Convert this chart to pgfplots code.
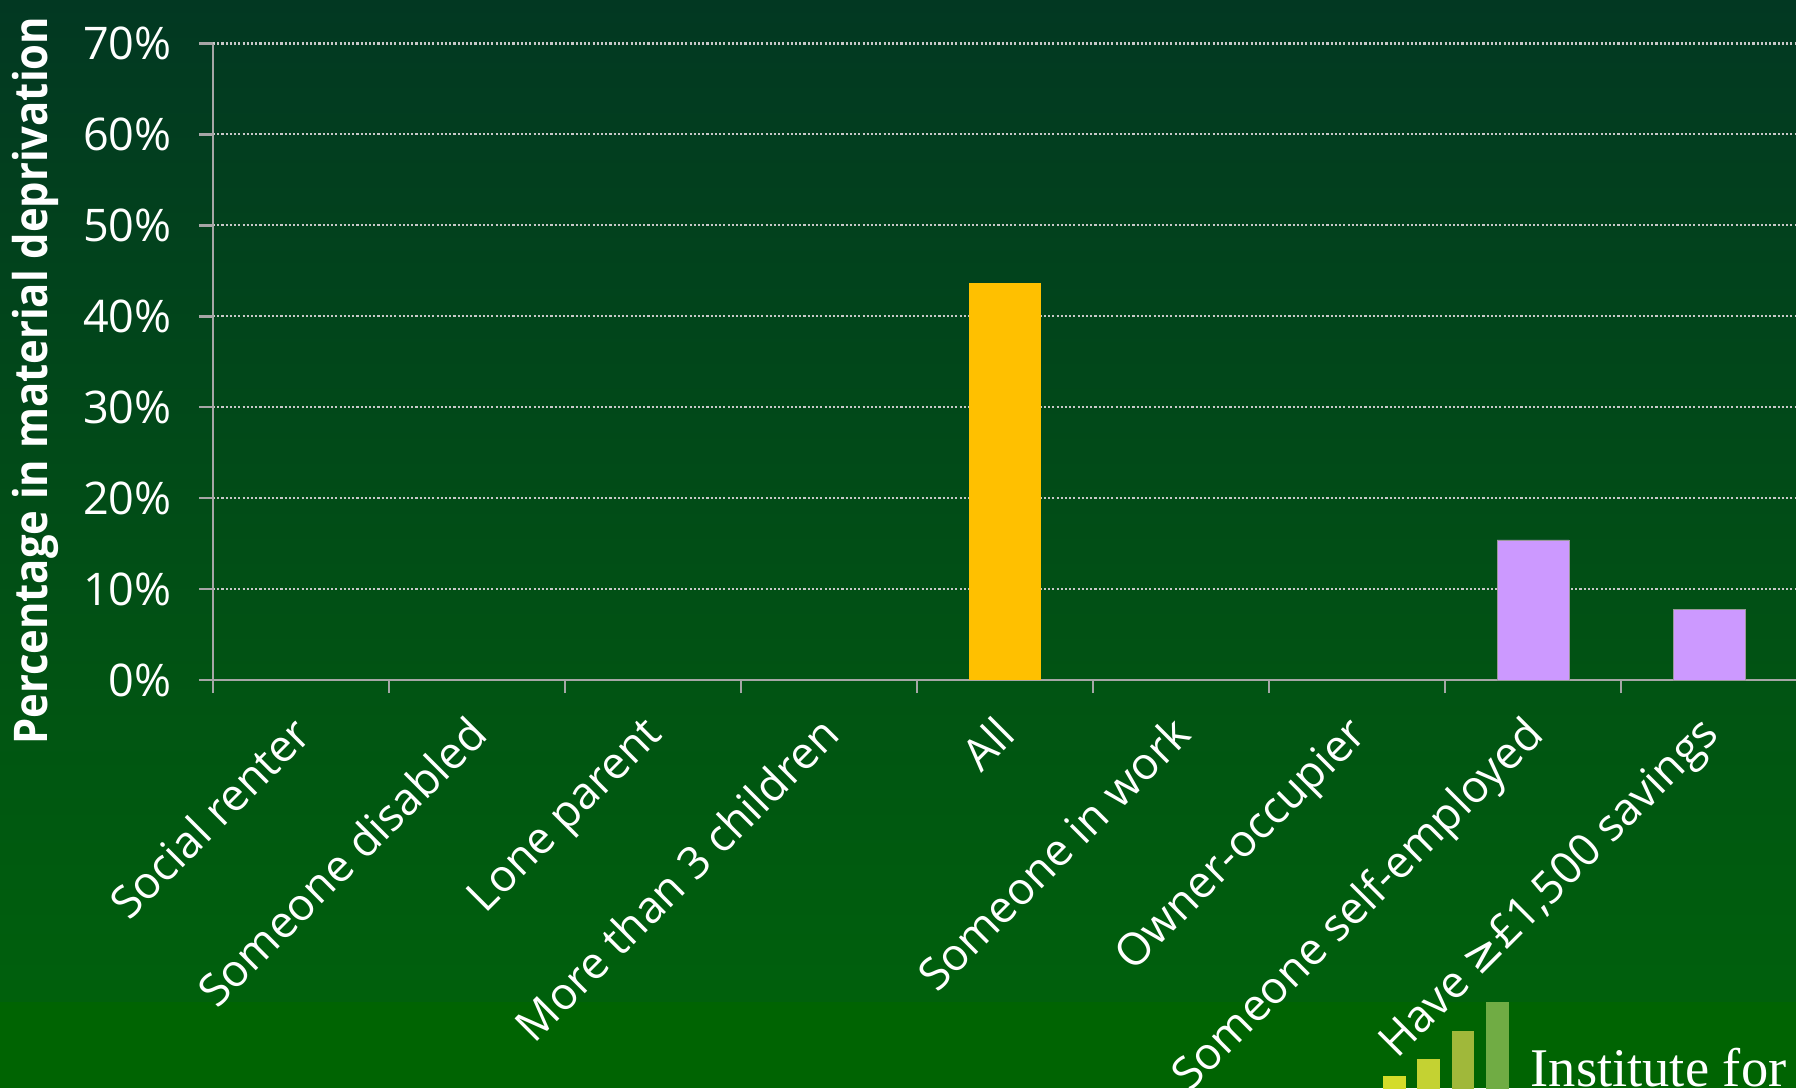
\documentclass[border=0pt]{standalone}
\usepackage{pgfplots}
\pgfplotsset{compat=1.18}
\usepackage{fontspec}
\setmainfont{Open Sans}
\newfontfamily\ylabfont[FakeStretch=0.9]{Open Sans}
\newfontfamily\dejavu{DejaVu Sans}
\newfontfamily\seriffont{Liberation Serif}
\definecolor{bgtop}{RGB}{2,56,34}
\definecolor{bgbot}{RGB}{0,96,12}
\definecolor{band}{RGB}{0,100,2}
\definecolor{axgray}{RGB}{166,166,166}
\definecolor{gridgray}{RGB}{200,200,200}
\definecolor{barYellow}{RGB}{255,192,0}
\definecolor{barPurple}{RGB}{204,153,255}
\definecolor{logoA}{RGB}{212,220,42}
\definecolor{logoB}{RGB}{196,210,50}
\definecolor{logoC}{RGB}{160,184,58}
\definecolor{logoD}{RGB}{112,172,68}
\begin{document}
\begin{tikzpicture}
\useasboundingbox (0,0) rectangle (179.6mm,108.8mm);
\clip (0,0) rectangle (179.6mm,108.8mm);
\shade[top color=bgtop, bottom color=bgbot] (0,8.6mm) rectangle (179.6mm,108.8mm);
\fill[band] (0,0) rectangle (179.6mm,8.6mm);
\begin{axis}[
  at={(21.3mm,40.8mm)}, anchor=south west,
  scale only axis,
  width=158.4mm, height=63.65mm,
  xmin=-0.5, xmax=8.5, ymin=0, ymax=70,
  axis x line*=bottom, axis y line*=left,
  axis line style={draw=axgray, line width=0.7pt, -},
  tick align=outside,
  xtick={0,...,8},
  xticklabels={Social renter,Someone disabled,Lone parent,More than 3 children,All,Someone in work,Owner-occupier,Someone self-employed,{Have {\dejavu ≥}£1,500 savings}},
  minor xtick={-0.5,0.5,...,8.5},
  major x tick style={draw=none},
  minor x tick style={draw=axgray, line width=0.7pt},
  minor tick length=1.3mm,
  ytick={0,10,...,70},
  yticklabels={0\%,10\%,20\%,30\%,40\%,50\%,60\%,70\%},
  major y tick style={draw=axgray, line width=0.7pt},
  major tick length=1.4mm,
  ymajorgrids,
  grid style={draw=gridgray, line width=0.6pt, dash pattern=on 0.6pt off 0.6pt},
  xticklabel style={font=\fontsize{12.7}{15}\selectfont, text=white, inner sep=0pt, xshift=-1.15mm, yshift=-1.84mm, rotate=45, anchor=north east},
  yticklabel style={font=\fontsize{12.8}{15}\selectfont, text=white, inner sep=0pt, anchor=east, xshift=-2.66mm},
  ylabel={Percentage in material deprivation},
  ylabel style={font=\ylabfont\bfseries\fontsize{13.2}{15}\selectfont, text=white, at={(axis description cs:-0.1122,0.47)}, anchor=center, rotate=0},
  ybar, bar width=7.2mm,
  clip=false,
]
\addplot[fill=barYellow, draw=none, bar shift=0pt] coordinates {(4,43.7)};
\addplot[fill=barPurple, draw=gray!80, line width=0.2pt, bar shift=0pt] coordinates {(7,15.4) (8,7.8)};
\end{axis}
\fill[logoA] (138.3mm,-1mm) rectangle (140.6mm,1.2mm);
\fill[logoB] (141.7mm,-1mm) rectangle (144.0mm,2.9mm);
\fill[logoC] (145.2mm,-1mm) rectangle (147.4mm,5.7mm);
\fill[logoD] (148.6mm,-1mm) rectangle (150.9mm,8.6mm);
\node[anchor=base west, inner sep=0pt, text=white, font=\seriffont\fontsize{15.5}{17}\selectfont] at (153.0mm,0.2mm) {Institute for};
\end{tikzpicture}
\end{document}
